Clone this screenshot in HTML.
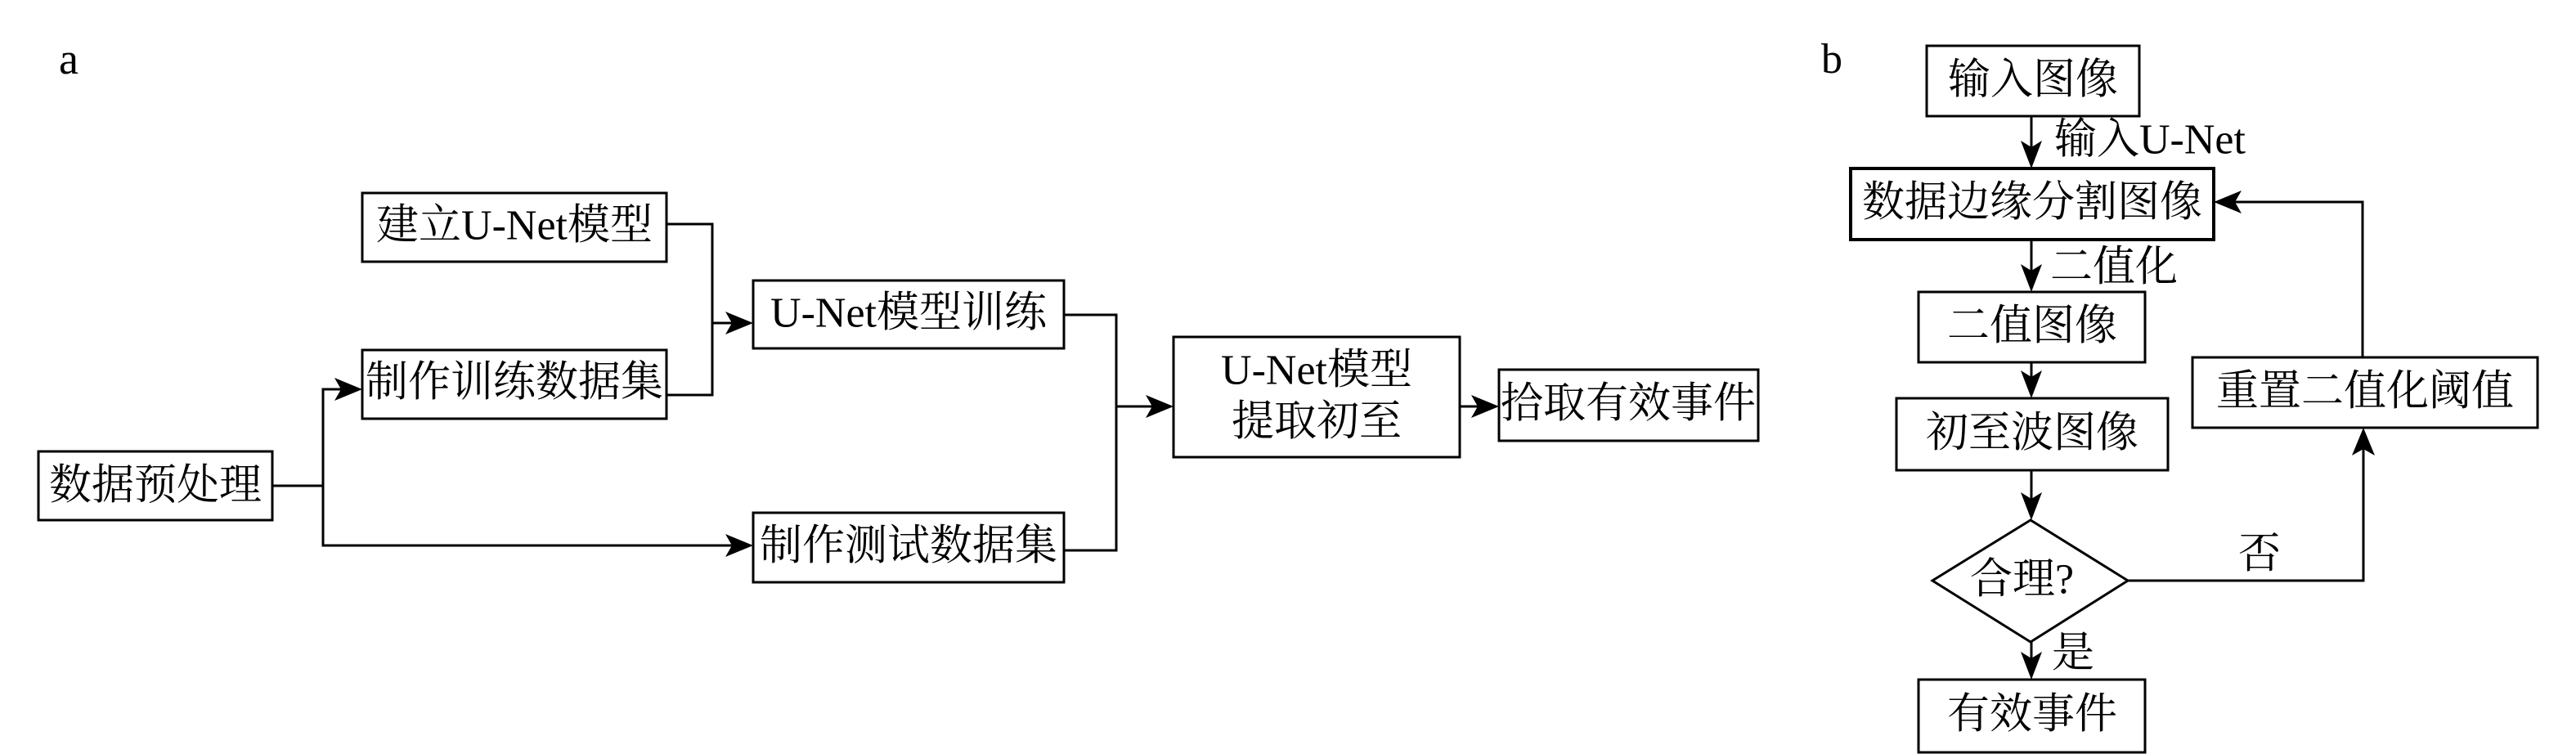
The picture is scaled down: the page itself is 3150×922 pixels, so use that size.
<!DOCTYPE html>
<html>
<head>
<meta charset="utf-8">
<style>
  html, body { margin: 0; padding: 0; background: #ffffff; }
  body { width: 3150px; height: 922px; overflow: hidden; }
  svg { display: block; }
  text { font-family: "Liberation Serif", "Noto Serif CJK SC", "Noto Serif SC", "Source Han Serif SC", "AR PL UMing CN", "Noto Sans CJK SC", serif; font-size: 52px; fill: #000; }
</style>
</head>
<body>
<svg width="3150" height="922" viewBox="0 0 3150 922" xmlns="http://www.w3.org/2000/svg">
  <rect x="0" y="0" width="3150" height="922" fill="#fff"/>

  <!-- ============ Panel a ============ -->
  <text x="72" y="90" style="font-size:54px">a</text>

  <g fill="none" stroke="#000" stroke-width="3">
    <!-- boxes -->
    <rect x="47" y="552" width="286" height="84"/>
    <rect x="443" y="236" width="372" height="84"/>
    <rect x="443" y="428" width="372" height="84"/>
    <rect x="921" y="343" width="380" height="83"/>
    <rect x="921" y="627" width="380" height="85"/>
    <rect x="1435" y="412" width="350" height="147"/>
    <rect x="1833" y="452" width="317" height="87"/>

    <!-- connectors -->
    <polyline points="333,594 395,594"/>
    <polyline points="417,476 395,476 395,667 895,667"/>
    <polyline points="815,274 871,274 871,483 815,483"/>
    <polyline points="871,395 895,395"/>
    <polyline points="1301,385 1365,385 1365,673 1301,673"/>
    <polyline points="1365,497 1409,497"/>
    <polyline points="1785,497 1807,497"/>
  </g>

  <g fill="#000" stroke="none">
    <polygon points="443,476 409,462 417,476 409,490"/>
    <polygon points="921,667 887,653 895,667 887,681"/>
    <polygon points="921,395 887,381 895,395 887,409"/>
    <polygon points="1435,497 1401,483 1409,497 1401,511"/>
    <polygon points="1833,497 1799,483 1807,497 1799,511"/>
  </g>

  <g text-anchor="middle" dominant-baseline="central">
    <text x="190" y="594">数据预处理</text>
    <text x="629" y="276">建立U-Net模型</text>
    <text x="629" y="468">制作训练数据集</text>
    <text x="1111" y="383">U-Net模型训练</text>
    <text x="1111" y="668">制作测试数据集</text>
    <text x="1610" y="453">U-Net模型</text>
    <text x="1610" y="516">提取初至</text>
    <text x="1991" y="494">拾取有效事件</text>
  </g>

  <!-- ============ Panel b ============ -->
  <text x="2227" y="89" style="font-size:52px">b</text>

  <g fill="none" stroke="#000" stroke-width="3">
    <rect x="2356" y="56" width="260" height="86"/>
    <rect x="2263" y="206" width="444" height="87" stroke-width="4"/>
    <rect x="2346" y="357" width="277" height="86"/>
    <rect x="2319" y="487" width="332" height="88"/>
    <polygon points="2483,636 2602,710 2483,785 2363,710"/>
    <rect x="2346" y="831" width="277" height="89"/>
    <rect x="2681" y="437" width="422" height="86"/>

    <!-- connectors -->
    <line x1="2484" y1="142" x2="2484" y2="182"/>
    <line x1="2484" y1="293" x2="2484" y2="333"/>
    <line x1="2484" y1="443" x2="2484" y2="463"/>
    <line x1="2484" y1="575" x2="2484" y2="612"/>
    <line x1="2484" y1="785" x2="2484" y2="807"/>
    <polyline points="2602,710 2890,710 2890,547"/>
    <polyline points="2889,437 2889,247 2733,247"/>
  </g>

  <g fill="#000" stroke="none">
    <polygon points="2484,206 2471,172 2484,180 2497,172"/>
    <polygon points="2484,357 2471,323 2484,331 2497,323"/>
    <polygon points="2484,487 2471,453 2484,461 2497,453"/>
    <polygon points="2484,636 2471,602 2484,610 2497,602"/>
    <polygon points="2484,831 2471,797 2484,805 2497,797"/>
    <polygon points="2890,523 2876,557 2890,549 2904,557"/>
    <polygon points="2707,247 2741,233 2733,247 2741,261"/>
  </g>

  <g text-anchor="middle" dominant-baseline="central">
    <text x="2486" y="98">输入图像</text>
    <text x="2485" y="248">数据边缘分割图像</text>
    <text x="2485" y="399">二值图像</text>
    <text x="2485" y="530">初至波图像</text>
    <text x="2485" y="874">有效事件</text>
    <text x="2892" y="479">重置二值化阈值</text>
  </g>

  <g dominant-baseline="central">
    <text x="2409" y="709">合理?</text>
    <text x="2512" y="171">输入U-Net</text>
    <text x="2507" y="327">二值化</text>
    <text x="2509" y="799">是</text>
    <text x="2737" y="678">否</text>
  </g>
</svg>
</body>
</html>
